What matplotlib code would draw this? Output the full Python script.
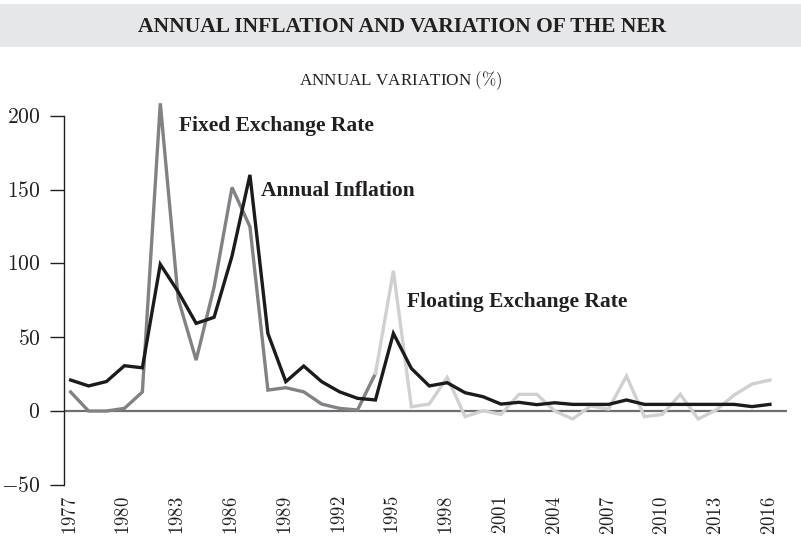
import matplotlib
matplotlib.use("Agg")
import matplotlib.pyplot as plt
import matplotlib.ticker as mticker
from matplotlib.patches import Rectangle

plt.rcParams["mathtext.fontset"] = "cm"
plt.rcParams["font.family"] = ["Liberation Serif", "DejaVu Serif"]

# ── Data (annual % variation) ─────────────────────────────────────────────
YEARS = list(range(1977, 2017))

INFLATION = [21, 17, 20, 30.7, 29.3, 99.4, 80.8, 59.4, 63.5, 105,
             160, 52.6, 19.9, 30.5, 19.9, 13, 8.6, 7.5, 52.6, 28.9,
             17, 19.2, 12.4, 9.7, 4.7, 5.9, 4.3, 5.6, 4.5, 4.5,
             4.5, 7.5, 4.5, 4.5, 4.5, 4.5, 4.5, 4.5, 3, 4.5]

FIXED_YEARS = list(range(1977, 1995))
FIXED = [12.9, 0, 0, 1.8, 12.9, 208.5, 76, 34.5, 84, 151.5,
         124.9, 14.2, 15.8, 13, 4.7, 1.8, 0.7, 25.5]

FLOAT_YEARS = list(range(1994, 2017))
FLOATING = [25.5, 95, 2.9, 4.7, 22.8, -3.8, 0.2, -2.3, 11.3, 11.3,
            0, -5.4, 3.4, 1.3, 23.7, -3.8, -2.3, 11.3, -5.4, 0.7,
            10.8, 18.3, 21]

XTICKS = list(range(1977, 2017, 3))
YTICKS = [-50, 0, 50, 100, 150, 200]

TITLE = "ANNUAL INFLATION AND VARIATION OF THE NER"

# ── Figure ────────────────────────────────────────────────────────────────
fig = plt.figure(figsize=(8.01, 5.49), dpi=100)
fig.patch.set_facecolor("white")

# title band
fig.patches.append(Rectangle((0, 1 - 47 / 549), 1, 43 / 549,
                             transform=fig.transFigure,
                             facecolor="#e6e7e8", edgecolor="none"))
fig.text(0.502, 1 - 27 / 549, TITLE, ha="center", va="center",
         fontsize=15.5, fontweight="bold", color="#231f20")
fig.text(0.501, 1 - 81 / 549, "ANNUAL VARIATION $(\\%)$", ha="center",
         va="center", fontsize=12.3, color="#231f20")

ax = fig.add_axes([0.0799, 0.1169, 0.9026, 0.7124])

ax.axhline(0, color="#6d6e71", linewidth=1.6, zorder=1)
ax.plot(FIXED_YEARS, FIXED, color="#808285", linewidth=2.4, zorder=2,
        solid_joinstyle="miter")
ax.plot(FLOAT_YEARS, FLOATING, color="#cfd0d2", linewidth=2.4, zorder=2,
        solid_joinstyle="miter")
ax.plot(YEARS, INFLATION, color="#1c1b1b", linewidth=2.4, zorder=3,
        solid_joinstyle="miter")

ax.set_xlim(1976.63, 2016.95)
ax.set_ylim(-50, 215)

for side in ["top", "right", "bottom"]:
    ax.spines[side].set_visible(False)
ax.spines["left"].set_bounds(-50, 200)
ax.spines["left"].set_linewidth(1.0)
ax.spines["left"].set_color("#231f20")

ax.set_yticks(YTICKS)
ax.set_xticks(XTICKS)
ax.yaxis.set_major_formatter(mticker.FuncFormatter(lambda v, _: f"${v:.0f}$"))
ax.xaxis.set_major_formatter(mticker.FuncFormatter(lambda v, _: f"${v:.0f}$"))
ax.tick_params(axis="y", direction="out", length=10, width=1.0,
               pad=7, labelsize=15.5, color="#231f20", labelcolor="#231f20")
ax.tick_params(axis="x", length=0, pad=8, labelsize=13.5,
               labelrotation=90, labelcolor="#231f20")

# series labels
lab = dict(fontsize=15.5, fontweight="bold", color="#231f20",
           ha="left", va="center")
ax.text(1983.05, 193, "Fixed Exchange Rate", **lab)
ax.text(1987.6, 149, "Annual Inflation", **lab)
ax.text(1995.75, 74, "Floating Exchange Rate", **lab)

fig.savefig("out.png", dpi=100)
